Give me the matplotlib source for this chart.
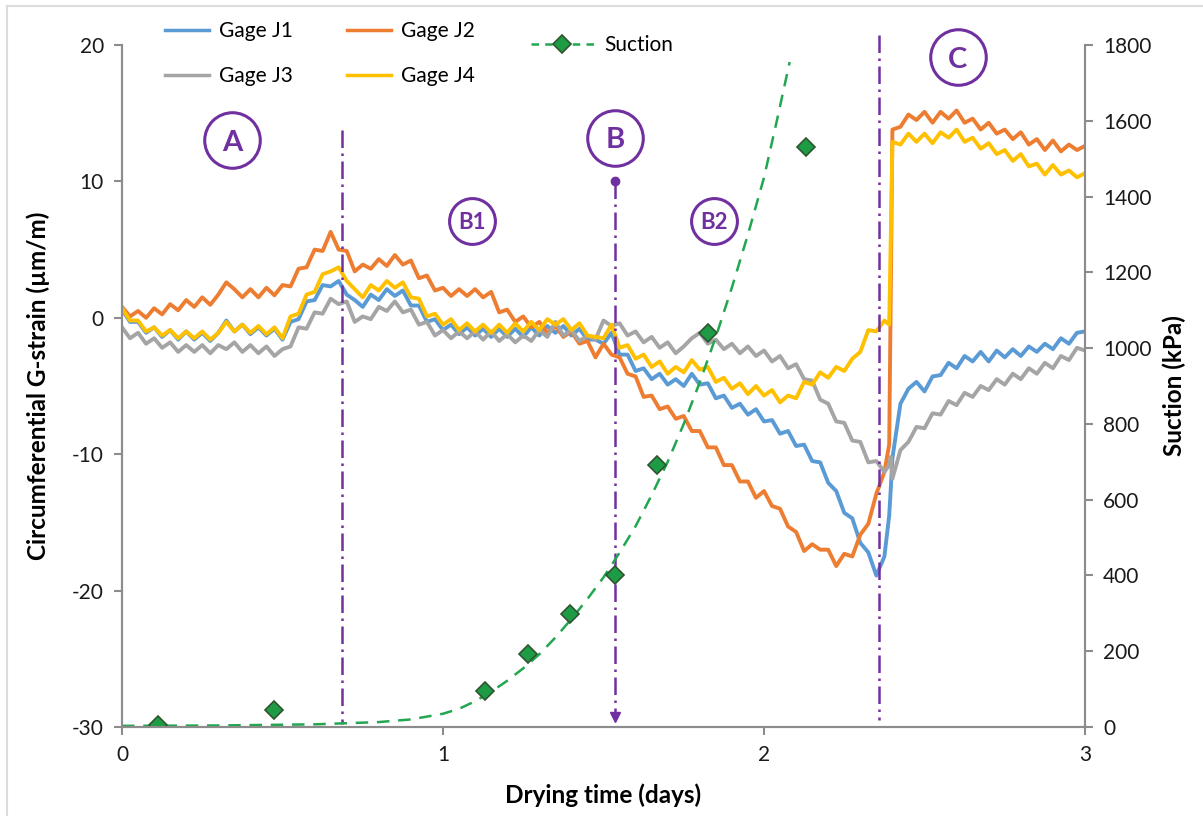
import numpy as np
import matplotlib
matplotlib.use("Agg")
import matplotlib.pyplot as plt
from matplotlib.lines import Line2D

plt.rcParams['font.family'] = ['Lato', 'DejaVu Sans']
plt.rcParams['axes.unicode_minus'] = False

# ---- data ----
# strain readings every 0.025 d, two extra samples at the jump (2.39, 2.395)
days = np.concatenate([np.arange(96) * 0.025, [2.39, 2.395], 2.4 + np.arange(25) * 0.025])

gage_j1 = [
    0.6, -0.3, -0.3, -1.1, -0.7, -1.4, -0.9, -1.6,
    -1.0, -1.6, -1.1, -1.7, -1.1, -0.2, -1.0, -0.5,
    -1.2, -0.7, -1.3, -0.8, -1.6, -0.3, -0.1, 1.2,
    1.3, 2.4, 2.3, 2.7, 1.7, 1.3, 0.8, 1.7,
    1.3, 2.1, 1.6, 2.0, 0.9, 0.9, -0.3, -0.1,
    -0.9, -0.5, -1.2, -0.7, -1.3, -0.8, -1.4, -0.8,
    -1.4, -0.8, -1.4, -0.7, -1.3, -0.6, -1.1, -0.6,
    -1.3, -0.8, -1.6, -1.6, -1.9, -1.1, -2.7, -2.7,
    -3.9, -3.7, -4.5, -4.1, -4.9, -4.5, -5.0, -4.1,
    -4.9, -4.8, -5.9, -5.7, -6.6, -6.3, -7.1, -6.7,
    -7.6, -7.5, -8.5, -8.3, -9.4, -9.3, -10.5, -10.6,
    -12.1, -12.7, -14.3, -14.7, -16.5, -17.2, -18.9, -17.5,
    -14.5, -12.5,
    -10.3, -6.3, -5.2, -4.7, -5.4, -4.3, -4.2, -3.3,
    -3.7, -2.8, -3.2, -2.5, -3.2, -2.4, -2.9, -2.3,
    -2.8, -2.1, -2.5, -1.9, -2.3, -1.5, -1.9, -1.1,
    -1.0,
]
gage_j2 = [
    0.8, 0.1, 0.5, 0.0, 0.7, 0.25, 1.0, 0.55,
    1.3, 0.8, 1.5, 0.95, 1.7, 2.6, 2.1, 1.5,
    2.1, 1.5, 2.2, 1.65, 2.4, 2.3, 3.6, 3.7,
    5.0, 4.9, 6.3, 5.0, 4.9, 3.4, 3.9, 3.6,
    4.3, 3.8, 4.6, 3.9, 4.2, 2.9, 3.1, 2.0,
    2.2, 1.6, 2.1, 1.6, 2.1, 1.5, 1.9, 0.4,
    0.6, -0.3, 0.1, -0.7, -0.3, -1.1, -0.6, -1.4,
    -1.0, -1.9, -1.7, -2.9, -1.9, -2.7, -2.9, -4.1,
    -4.3, -5.8, -5.7, -6.7, -6.5, -7.4, -7.2, -8.3,
    -8.3, -9.5, -9.5, -10.8, -10.8, -12.0, -12.0, -13.2,
    -12.7, -13.8, -14.0, -15.3, -15.7, -17.1, -16.6, -17.0,
    -17.0, -18.2, -17.3, -17.5, -15.9, -15.1, -12.9, -11.3,
    -9.3, 2.0,
    13.8, 14.0, 14.9, 14.5, 15.1, 14.3, 15.1, 14.6,
    15.2, 14.3, 14.6, 13.8, 14.3, 13.5, 13.8, 13.1,
    13.6, 12.7, 13.1, 12.3, 13.0, 12.2, 12.7, 12.3,
    12.6,
]
gage_j3 = [
    -0.7, -1.5, -1.1, -1.9, -1.5, -2.2, -1.8, -2.5,
    -2.0, -2.5, -2.0, -2.6, -2.0, -2.3, -1.8, -2.5,
    -2.0, -2.6, -2.1, -2.8, -2.3, -2.1, -0.7, -0.8,
    0.4, 0.3, 1.4, 1.0, 1.2, -0.3, 0.1, -0.1,
    0.8, 0.5, 1.2, 0.4, 0.6, -0.5, -0.3, -1.3,
    -0.9, -1.5, -1.0, -1.5, -1.0, -1.6, -1.0, -1.7,
    -1.2, -1.8, -1.3, -1.7, -0.9, -1.4, -0.3, -1.3,
    -0.9, -1.7, -1.3, -1.6, -0.2, -0.6, -0.4, -1.3,
    -1.0, -1.8, -1.4, -2.2, -1.8, -2.6, -2.1, -1.5,
    -1.1, -1.9, -1.6, -2.3, -1.9, -2.6, -2.1, -2.8,
    -2.4, -3.2, -2.8, -3.7, -3.4, -4.5, -4.6, -6.0,
    -6.3, -7.6, -7.7, -9.0, -9.1, -10.6, -10.5, -11.3,
    -10.8, -10.2,
    -11.8, -9.7, -9.1, -8.0, -8.1, -7.0, -7.1, -6.1,
    -6.4, -5.5, -5.8, -5.0, -5.3, -4.5, -4.9, -4.1,
    -4.5, -3.7, -4.1, -3.3, -3.7, -2.8, -3.1, -2.2,
    -2.4,
]
gage_j4 = [
    0.7, -0.2, -0.2, -1.0, -0.7, -1.3, -0.9, -1.5,
    -1.0, -1.5, -1.0, -1.6, -1.1, -0.3, -1.0, -0.5,
    -1.1, -0.6, -1.2, -0.7, -1.5, 0.1, 0.3, 1.7,
    1.9, 3.2, 3.4, 3.7, 2.7, 2.1, 1.5, 2.4,
    2.0, 2.7, 2.2, 2.6, 1.5, 1.4, 0.1, 0.3,
    -0.5, -0.1, -0.9, -0.4, -1.0, -0.5, -1.1, -0.5,
    -1.1, -0.4, -1.0, -0.3, -0.9, -0.1, -0.5, -0.1,
    -0.9, -0.4, -1.3, -1.4, -1.5, -0.5, -2.2, -2.0,
    -3.0, -2.7, -3.6, -3.2, -4.1, -3.6, -4.0, -3.1,
    -3.8, -3.6, -4.7, -4.4, -5.2, -4.8, -5.6, -5.0,
    -5.7, -5.3, -6.2, -5.7, -5.9, -4.7, -4.9, -4.0,
    -4.4, -3.6, -3.9, -3.0, -2.5, -0.9, -1.0, -0.2,
    -0.5, 6.0,
    12.9, 12.7, 13.5, 12.9, 13.5, 12.8, 13.6, 13.2,
    13.8, 12.9, 13.2, 12.4, 12.8, 12.0, 12.3, 11.5,
    12.0, 11.1, 11.3, 10.5, 11.2, 10.5, 10.8, 10.3,
    10.6,
]

suction_days = [0.112, 0.474, 1.132, 1.266, 1.397, 1.537, 1.668, 1.824, 2.13]
suction_kpa = [5, 45, 95, 193, 298, 401, 691, 1040, 1530]

# dashed trend curve as drawn in the figure
trend_days = [0.0, 0.3, 0.6, 0.8, 0.9, 1.0, 1.05, 1.1, 1.15, 1.2, 1.25, 1.3, 1.35, 1.4,
              1.45, 1.5, 1.55, 1.6, 1.65, 1.7, 1.75, 1.8, 1.85, 1.9, 1.95, 2.0, 2.04, 2.08]
trend_kpa = [3, 4, 7, 13, 20, 35, 48, 68, 93, 122, 155, 192, 236, 285,
             338, 395, 460, 530, 612, 700, 800, 910, 1030, 1160, 1300, 1450, 1600, 1755]

gage_names = ['Gage J1', 'Gage J2', 'Gage J3', 'Gage J4']
gage_colors = ['#5B9BD5', '#ED7D31', '#A5A5A5', '#FFC000']

# stage markers: (days, strain) for label, boundaries in days
stage_labels = ['A', 'B', 'B1', 'B2', 'C']
stage_label_pos = [(0.343, 13.0), (1.537, 13.2), (1.091, 7.1), (1.843, 7.1), (2.604, 19.1)]
stage_bounds = [0.686, 1.537, 2.357]

purple = '#7030A0'
green = '#22A650'
axis_grey = '#8C8C8C'

fig = plt.figure(figsize=(12.03, 8.16), dpi=100)
ax = fig.add_axes([122 / 1203, 1 - 727 / 816, (1085 - 122) / 1203, (727 - 45) / 816])
ax2 = ax.twinx()

for vals, name, col in zip([gage_j1, gage_j2, gage_j3, gage_j4], gage_names, gage_colors):
    ax.plot(days, vals, color=col, lw=2.8, label=name)

ax.set_xlim(0, 3)
ax.set_ylim(-30, 20)
ax.set_xticks([0, 1, 2, 3])
ax.set_yticks([-30, -20, -10, 0, 10, 20])
ax2.set_ylim(0, 1800)
ax2.set_yticks(range(0, 1801, 200))

for a in (ax, ax2):
    a.spines['top'].set_visible(False)
    for s in ('left', 'right', 'bottom'):
        a.spines[s].set_color(axis_grey)
        a.spines[s].set_linewidth(1.5)
    a.tick_params(axis='both', colors=axis_grey, labelcolor='#1a1a1a', labelsize=15,
                  width=1.5, length=6, direction='out', pad=7)

ax.set_xlabel('Drying time (days)', fontsize=17.5, fontweight='bold', labelpad=13)
ax.set_ylabel('Circumferential G-strain (µm/m)', fontsize=17.5, fontweight='bold', labelpad=16)
ax2.set_ylabel('Suction (kPa)', fontsize=17.5, fontweight='bold', labelpad=8)

# stage boundaries (dash-dot)
dd = (0, (7, 2.2, 1, 2.2))
ax.plot([stage_bounds[0]] * 2, [13.8, -29.8], color=purple, lw=1.8, ls=dd, zorder=10)
ax.plot([stage_bounds[1]] * 2, [10, -29.2], color=purple, lw=1.8, ls=dd, zorder=10)
ax.plot([stage_bounds[1]], [10], 'o', color=purple, ms=6, zorder=10)
ax.plot([stage_bounds[1]], [-29.3], 'v', color=purple, ms=7, zorder=10)
ax.plot([stage_bounds[2]] * 2, [20.7, -29.5], color=purple, lw=1.8, ls=dd, zorder=10,
        clip_on=False)

for lab, (tx, ty) in zip(stage_labels, stage_label_pos):
    big = len(lab) == 1
    ax.plot([tx], [ty], 'o', ms=40 if big else 33, mfc='white', mec=purple, mew=2.2,
            zorder=11, clip_on=False)
    ax.text(tx, ty, lab, color=purple, fontsize=21 if big else 16, fontweight='bold',
            ha='center', va='center_baseline', zorder=12)

# suction on the secondary axis
ax2.plot(trend_days, trend_kpa, color=green, lw=1.8, ls=(0, (5, 3.5)))
ax2.plot(suction_days, suction_kpa, 'D', ms=9, mfc='#1E9B45', mec='#2F5530', mew=1.2,
         ls='none')

# legends (ncol=2 fills by column, so order J1, J3, J2, J4 gives rows J1|J2, J3|J4)
order = [0, 2, 1, 3]
g_handles = [Line2D([], [], color=gage_colors[i], lw=2.5) for i in order]
fig.legend(g_handles, [gage_names[i] for i in order], loc='upper left',
           bbox_to_anchor=(165 / 1203, 1 - 21 / 816),
           ncol=2, frameon=False, fontsize=15, handlelength=2.1, handletextpad=0.5,
           columnspacing=2.6, labelspacing=1.2, borderpad=0, borderaxespad=0)
s_handle = Line2D([], [], color=green, lw=1.8, ls=(0, (3, 2.5)), marker='D', ms=9,
                  mfc='#1E9B45', mec='#2F5530', mew=1.2)
fig.legend([s_handle], ['Suction'], loc='upper left', bbox_to_anchor=(531 / 1203, 1 - 35 / 816),
           frameon=False, fontsize=15, handlelength=3.0, handletextpad=0.5,
           borderpad=0, borderaxespad=0, numpoints=1)

# thin frame at the top/left edge of the image
fig.add_artist(Line2D([7 / 1203, 7 / 1203], [0, 1 - 6 / 816], color='#DCDCDC', lw=1.5))
fig.add_artist(Line2D([7 / 1203, 1], [1 - 6 / 816, 1 - 6 / 816], color='#DCDCDC', lw=1.5))

fig.savefig('out.png', dpi=100)
